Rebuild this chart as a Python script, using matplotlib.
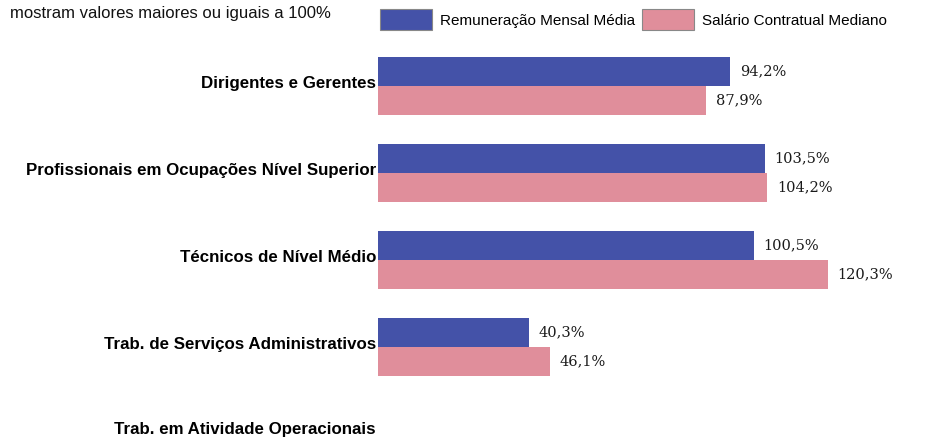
import numpy as np
import matplotlib
matplotlib.use("Agg")
import matplotlib.pyplot as plt
from matplotlib.patches import Patch
from matplotlib.transforms import ScaledTranslation

matplotlib.rcParams.update({"font.family": "Liberation Sans"})

categories = ["Dirigentes e Gerentes",
              "Profissionais em Ocupações Nível Superior",
              "Técnicos de Nível Médio",
              "Trab. de Serviços Administrativos",
              "Trab. em Atividade Operacionais"]
remuneracao = [94.2, 103.5, 100.5, 40.3, np.nan]
salario = [87.9, 104.2, 120.3, 46.1, np.nan]
series_names = ["Remuneração Mensal Média", "Salário Contratual Mediano"]
blue, pink = "#4452A8", "#E08E9B"

W, H = 945, 437
fig = plt.figure(figsize=(W / 100, H / 100), dpi=100)
x0 = 378
ax = fig.add_axes([x0 / W, 0, (W - x0) / W, 1])

px_per_pct = 352 / 94.2
ax.set_xlim(0, (W - x0) / px_per_pct)
step = 87.0
ax.set_ylim((H - 86) / step, -86 / step)

y = np.arange(len(categories))
bh = 29 / step
ax.barh(y - bh / 2, remuneracao, height=bh, color=blue)
ax.barh(y + bh / 2, salario, height=bh, color=pink)

for vals, off in [(remuneracao, -bh / 2), (salario, bh / 2)]:
    for yi, v in zip(y, vals):
        if np.isnan(v):
            continue
        ax.text(v + 2.6, yi + off, f"{v:.1f}%".replace(".", ","), va="center", ha="left",
                fontsize=10.5, family="DejaVu Serif", color="#1a1a1a")

ax.set_yticks(y)
ax.set_yticklabels(categories, fontsize=12.2, fontweight="bold")
ax.tick_params(axis="y", length=0, pad=1.5)
lift = ScaledTranslation(0, 4 / 100, fig.dpi_scale_trans)
for i, lab in enumerate(ax.get_yticklabels()):
    t = lab.get_transform() + lift
    if i == len(categories) - 1:
        t = t + ScaledTranslation(0, 2 / 100, fig.dpi_scale_trans)
    lab.set_transform(t)
ax.set_xticks([])
for s in ax.spines.values():
    s.set_visible(False)

fig.text(10 / W, 1 - 18 / H, "mostram valores maiores ou iguais a 100%", fontsize=12,
         ha="left", va="baseline", color="#111")

handles = [Patch(facecolor=blue, edgecolor="#888", lw=0.8),
           Patch(facecolor=pink, edgecolor="#888", lw=0.8)]
fig.legend(handles, series_names, loc="upper left", bbox_to_anchor=(380 / W, 1 - 9 / H),
           ncol=2, frameon=False, fontsize=11, handlelength=3.4, handleheight=1.75,
           handletextpad=0.5, columnspacing=0.5, borderpad=0, borderaxespad=0)

fig.savefig("out.png", dpi=100, facecolor="white")
